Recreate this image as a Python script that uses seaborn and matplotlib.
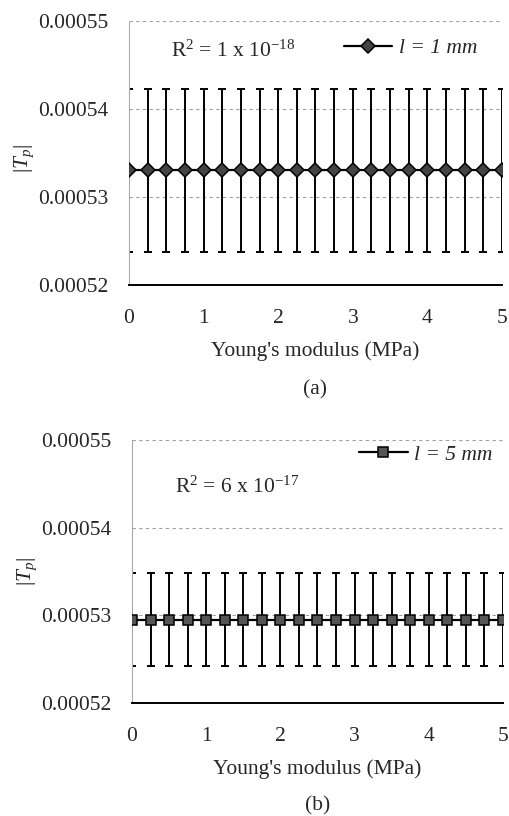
import numpy as np
import pandas as pd
import matplotlib
matplotlib.use('Agg')
import matplotlib.pyplot as plt
import seaborn as sns

# Young's modulus (MPa)
young = [0, 0.25, 0.5, 0.75, 1, 1.25, 1.5, 1.75, 2, 2.25, 2.5,
         2.75, 3, 3.25, 3.5, 3.75, 4, 4.25, 4.5, 4.75, 5]

# |Tp| for l = 1 mm
tp_1mm = [0.000533, 0.000533, 0.000533, 0.000533, 0.000533, 0.000533, 0.000533,
          0.000533, 0.000533, 0.000533, 0.000533, 0.000533, 0.000533, 0.000533,
          0.000533, 0.000533, 0.000533, 0.000533, 0.000533, 0.000533, 0.000533]
err_1mm = [0.0000092] * 21

# |Tp| for l = 5 mm
tp_5mm = [0.0005295, 0.0005295, 0.0005295, 0.0005295, 0.0005295, 0.0005295, 0.0005295,
          0.0005295, 0.0005295, 0.0005295, 0.0005295, 0.0005295, 0.0005295, 0.0005295,
          0.0005295, 0.0005295, 0.0005295, 0.0005295, 0.0005295, 0.0005295, 0.0005295]
err_5mm = [0.0000053] * 21

yticks = [0.00052, 0.00053, 0.00054, 0.00055]
xticks = [0, 1, 2, 3, 4, 5]

sns.set_theme(style='white')
plt.rcParams['font.family'] = ['Liberation Serif', 'DejaVu Serif']
plt.rcParams['mathtext.fontset'] = 'custom'
plt.rcParams['mathtext.rm'] = 'Liberation Serif'
plt.rcParams['mathtext.it'] = 'Liberation Serif:italic'

FS = 15.5

fig = plt.figure(figsize=(5.09, 8.16), dpi=100)
ax1 = fig.add_axes([0.2534, 0.6507, 0.7328, 0.3241])
ax2 = fig.add_axes([0.2593, 0.1385, 0.7289, 0.3223])


def draw(ax, y, err, marker, msize, mfc, label, r2, r2_pos, leg_pos, panel_y, ylab_y):
    df = pd.DataFrame({'E': young, 'Tp': y})
    sns.lineplot(data=df, x='E', y='Tp', ax=ax, color='black', lw=1.6,
                 marker=marker, markersize=msize,
                 markerfacecolor=mfc, markeredgecolor='black', markeredgewidth=1.1,
                 label=label, zorder=3)
    ax.errorbar(young, y, yerr=err, fmt='none', ecolor='black', elinewidth=1.4,
                capsize=3, capthick=1.4, zorder=2)
    ax.set_xlim(0, 5)
    ax.set_ylim(0.00052, 0.00055)
    ax.set_xticks(xticks)
    ax.set_yticks(yticks)
    ax.set_xticklabels([str(t) for t in xticks], fontsize=FS)
    ax.set_yticklabels(['%.5f' % t for t in yticks], fontsize=FS)
    ax.yaxis.grid(True, ls=(0, (3, 3)), color='#a0a0a0', lw=0.8)
    ax.xaxis.grid(False)
    for s in ['top', 'right']:
        ax.spines[s].set_visible(False)
    ax.spines['left'].set_color('#aaaaaa')
    ax.spines['left'].set_linestyle((0, (1, 1)))
    ax.spines['left'].set_linewidth(0.8)
    ax.spines['bottom'].set_color('black')
    ax.spines['bottom'].set_linewidth(1.4)
    ax.tick_params(axis='x', direction='in', length=5, width=1.3, color='black', pad=17)
    ax.tick_params(axis='y', direction='inout', length=5, width=0.8, color='#999999', pad=12)
    ax.set_xlabel("Young's modulus (MPa)", fontsize=FS, labelpad=10)
    ax.set_ylabel(r'$|T_p|$', fontsize=FS)
    ax.yaxis.set_label_coords(-0.25, ylab_y)
    ax.text(r2_pos[0], r2_pos[1], r2, fontsize=FS, transform=ax.transData)
    ax.legend(loc='center right', bbox_to_anchor=leg_pos, frameon=False,
              handlelength=2.25, handletextpad=0.3, borderaxespad=0,
              prop={'size': FS, 'style': 'italic', 'family': 'Liberation Serif'})
    ax.text(0.5, panel_y, '(a)' if ax is ax1 else '(b)', transform=ax.transAxes,
            ha='center', va='center', fontsize=FS)


draw(ax1, tp_1mm, err_1mm, 'D', 7, '#444444', 'l = 1 mm',
     r'R$^2$ = 1 x 10$^{-18}$', (0.563, 0.0005459), (0.957, 0.896), -0.395, 0.48)
draw(ax2, tp_5mm, err_5mm, 's', 6.5, '#555555', 'l = 5 mm',
     r'R$^2$ = 6 x 10$^{-17}$', (0.58, 0.000544), (0.995, 0.943), -0.39, 0.5)

fig.savefig('out.png', dpi=100)
